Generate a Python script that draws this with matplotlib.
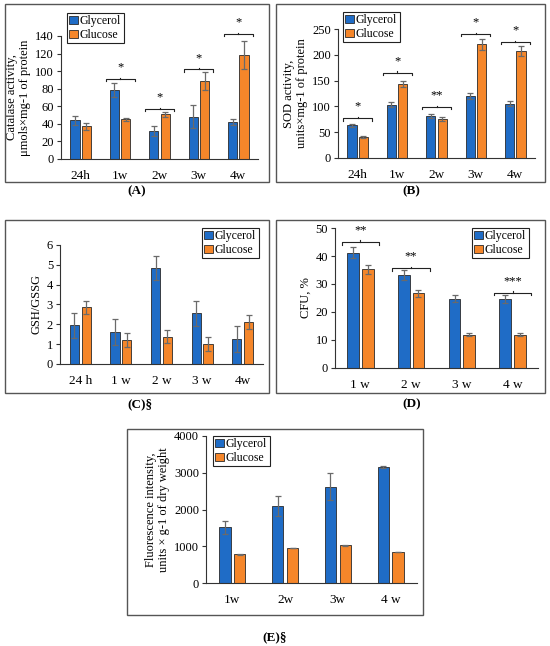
import matplotlib
matplotlib.use("Agg")
import matplotlib.pyplot as plt
from matplotlib.patches import Rectangle
import numpy as np

plt.rcParams['font.family'] = ['Liberation Serif', 'DejaVu Serif']

blue = '#1f6cc6'
orange = '#f5862a'

# panel A - catalase
cat_a = ['24h', '1w', '2w', '3w', '4w']
gly_a = [44, 78, 32, 48, 42]
gly_a_err = [5, 8, 6, 13, 3]
glu_a = [37, 45, 51, 89, 118]
glu_a_err = [4, 1.5, 3, 10, 16]
sig_a = ['', '*', '*', '*', '*']
sig_a_y = [0, 91, 57, 102, 142]

# panel B - SOD
cat_b = ['24h', '1w', '2w', '3w', '4w']
gly_b = [63, 103, 82, 120, 105]
gly_b_err = [3, 5, 4, 5, 5]
glu_b = [40, 143, 75, 220, 207]
glu_b_err = [2, 6, 4, 10, 10]
sig_b = ['*', '*', '**', '*', '*']
sig_b_y = [77, 165, 99, 240, 225]

# panel C - GSH/GSSG
cat_c = ['24 h', '1 w', '2 w', '3 w', '4w']
gly_c = [1.95, 1.6, 4.85, 2.55, 1.25]
gly_c_err = [0.62, 0.65, 0.62, 0.65, 0.65]
glu_c = [2.85, 1.2, 1.38, 1.0, 2.1]
glu_c_err = [0.35, 0.35, 0.33, 0.35, 0.35]

# panel D - CFU
cat_d = ['1 w', '2 w', '3 w', '4 w']
gly_d = [41.2, 33.2, 24.7, 24.6]
gly_d_err = [2.0, 1.7, 1.3, 1.4]
glu_d = [35.2, 26.7, 11.9, 11.9]
glu_d_err = [1.7, 1.3, 0.6, 0.6]
sig_d = ['**', '**', '', '***']
sig_d_y = [45, 35.7, 0, 26.8]

# panel E - fluorescence
cat_e = ['1w', '2w', '3w', '4 w']
gly_e = [1520, 2090, 2620, 3160]
gly_e_err = [180, 270, 370, 30]
glu_e = [780, 950, 1030, 840]
glu_e_err = [10, 10, 10, 10]

W, H = 550, 646
fig = plt.figure(figsize=(W / 100, H / 100), dpi=100)


def px_axes(x0, x1, y_top, y_bot):
    return fig.add_axes([x0 / W, 1 - y_bot / H, (x1 - x0) / W, (y_bot - y_top) / H])


def frame(x0, y0, x1, y1):
    fig.patches.append(Rectangle((x0 / W, 1 - y1 / H), (x1 - x0) / W, (y1 - y0) / H,
                                 transform=fig.transFigure, fill=False,
                                 edgecolor='#555555', lw=1.0))


def draw(ax, cats, g, ge, c, ce, ymax, ystep, ylabel, leg_xy, width=0.23, off=0.145):
    x = np.arange(len(cats))
    ekw = dict(ecolor='#6a6a6a', elinewidth=0.9, capsize=2.2, capthick=0.9)
    ax.bar(x - off, g, width, yerr=ge, color=blue, edgecolor='#2a2a2a', lw=0.6,
           label='Glycerol', error_kw=ekw)
    ax.bar(x + off, c, width, yerr=ce, color=orange, edgecolor='#2a2a2a', lw=0.6,
           label='Glucose', error_kw=ekw)
    ax.set_xlim(-0.5, len(cats) - 0.5)
    ax.set_ylim(0, ymax)
    ax.set_yticks(np.arange(0, ymax + ystep / 2, ystep))
    ax.set_xticks(x)
    ax.set_xticklabels(cats, fontsize=9.5)
    ax.tick_params(axis='x', length=0, pad=8)
    ax.tick_params(axis='y', length=3, labelsize=9, color='#333333', pad=2)
    for s in ['top', 'right']:
        ax.spines[s].set_visible(False)
    for s in ['left', 'bottom']:
        ax.spines[s].set_color('#333333')
        ax.spines[s].set_linewidth(0.8)
    ax.set_ylabel(ylabel, fontsize=9, linespacing=1.1, labelpad=3)
    ax.patch.set_visible(False)
    leg = ax.legend(loc='upper left', bbox_to_anchor=(leg_xy[0] / W, 1 - leg_xy[1] / H),
                    bbox_transform=fig.transFigure, fontsize=8.5, frameon=True,
                    fancybox=False, edgecolor='#222222', framealpha=1,
                    handlelength=0.7, handleheight=0.7, handletextpad=0.2,
                    borderpad=0.2, labelspacing=0.15, borderaxespad=0)
    leg.get_frame().set_linewidth(0.8)


def brackets(ax, sigs, ys, half=0.37):
    y0, y1 = ax.get_ylim()
    tick = (y1 - y0) * 0.018
    for i, (s, y) in enumerate(zip(sigs, ys)):
        if not s:
            continue
        ax.plot([i - half, i - half, i + half, i + half], [y - tick, y, y, y - tick],
                color='#222222', lw=0.8, clip_on=False)
        ax.plot([i, i], [y, y + tick * 0.6], color='#222222', lw=0.8, clip_on=False)
        ax.annotate(s, (i, y), xytext=(0, 4), textcoords='offset points',
                    ha='center', va='bottom', fontsize=9, annotation_clip=False)


# A
frame(5, 4, 269, 182)
axA = px_axes(61, 258, 36, 159)
draw(axA, cat_a, gly_a, gly_a_err, glu_a, glu_a_err, 140, 20,
     'Catalase activity,\nμmols×mg-1 of protein', (67, 13))
brackets(axA, sig_a, sig_a_y)
fig.text(137 / W, 1 - 191 / H, '(A)', ha='center', va='center', fontsize=9.5, fontweight='bold')

# B
frame(276, 4, 545, 182)
axB = px_axes(338, 535, 29, 158)
draw(axB, cat_b, gly_b, gly_b_err, glu_b, glu_b_err, 250, 50,
     'SOD activity,\nunits×mg-1 of protein', (343, 12))
brackets(axB, sig_b, sig_b_y)
fig.text(411 / W, 1 - 191 / H, '(B)', ha='center', va='center', fontsize=9.5, fontweight='bold')

# C
frame(5, 220, 269, 393)
axC = px_axes(60, 263, 245, 364)
draw(axC, cat_c, gly_c, gly_c_err, glu_c, glu_c_err, 6, 1, 'GSH/GSSG', (202, 228))
fig.text(140 / W, 1 - 404 / H, '(C)§', ha='center', va='center', fontsize=9.5, fontweight='bold')

# D
frame(276, 220, 545, 393)
axD = px_axes(335, 538, 228, 368)
draw(axD, cat_d, gly_d, gly_d_err, glu_d, glu_d_err, 50, 10, 'CFU, %', (472, 228))
brackets(axD, sig_d, sig_d_y)
fig.text(412 / W, 1 - 404 / H, '(D)', ha='center', va='center', fontsize=9.5, fontweight='bold')

# E
frame(127, 429, 423, 615)
axE = px_axes(206, 417, 436, 583)
draw(axE, cat_e, gly_e, gly_e_err, glu_e, glu_e_err, 4000, 1000,
     'Fluorescence intensity,\nunits × g-1 of dry weight', (213, 436), width=0.21, off=0.14)
fig.text(275 / W, 1 - 637 / H, '(E)§', ha='center', va='center', fontsize=9.5, fontweight='bold')

fig.savefig('out.png', dpi=100)
